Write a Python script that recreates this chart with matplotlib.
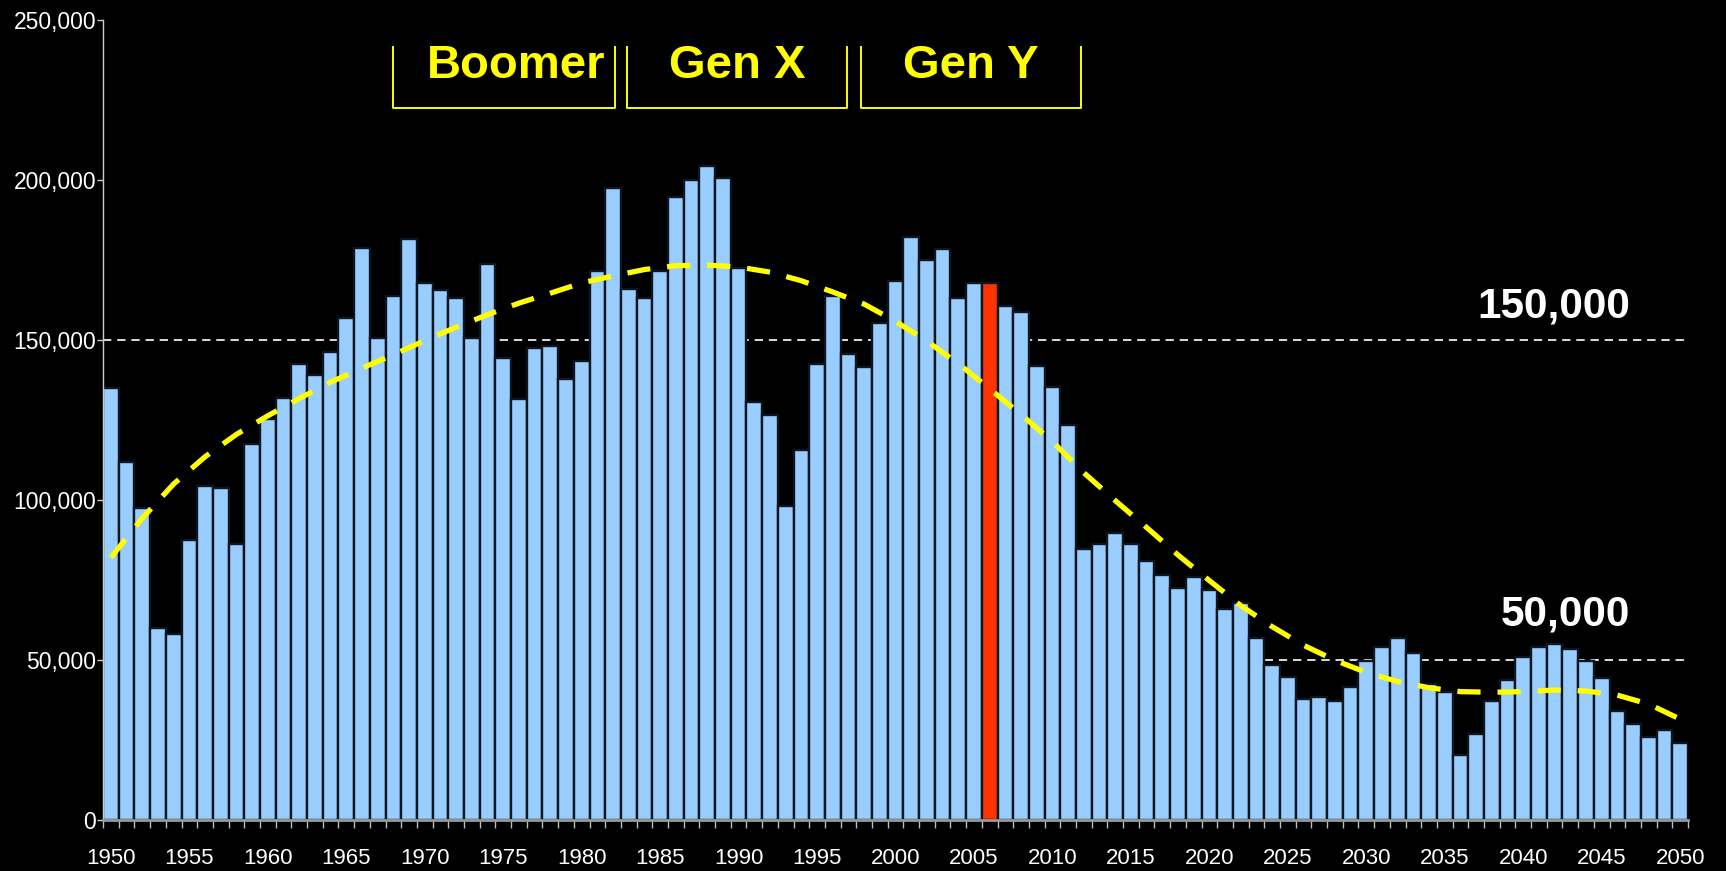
import numpy as np
import matplotlib.pyplot as plt
from matplotlib.ticker import FuncFormatter, MultipleLocator, FixedLocator

plt.rcParams['font.family'] = ['Liberation Sans', 'DejaVu Sans']

# --- data ---
years = np.arange(1950, 2051)
births = [
    134900, 112000, 97600, 59900, 58200, 87500, 104300, 103600, 86300, 117400,   # 1950s
    125200, 131900, 142600, 139000, 146300, 157000, 178600, 150500, 163700, 181600,  # 1960s
    167800, 165500, 163000, 150500, 173800, 144400, 131400, 147400, 148100, 137900,  # 1970s
    143400, 171400, 197600, 165900, 163000, 171400, 194700, 200000, 204300, 200700,  # 1980s
    172400, 130600, 126500, 98200, 115600, 142600, 163700, 145600, 141400, 155200,   # 1990s
    168300, 182100, 175000, 178500, 163000, 167800, 167800, 160600, 158800, 142000,  # 2000s
    135400, 123400, 84600, 86300, 89800, 86300, 80800, 76700, 72500, 76000,          # 2010s
    71900, 65800, 67700, 56800, 48500, 44800, 37700, 38300, 37100, 41400,            # 2020s
    49700, 53900, 56800, 52100, 42400, 40100, 20400, 26900, 37100, 43800,            # 2030s
    50900, 53900, 55100, 53300, 49700, 44300, 34100, 29900, 25800, 28100,            # 2040s
    24000,
]
highlight_year = 2006

trend_years = np.arange(1950, 2051, 2)
trend = [
    82000, 94300, 105000, 113500, 120500, 126300, 131700, 136800, 141200, 145400,
    149800, 154000, 157900, 161500, 164600, 167800, 170000, 172000, 173200, 173400,
    172800, 171200, 168500, 165000, 161200, 155800, 149600, 142600, 134700, 126700,
    118200, 108500, 99800, 91400, 82800, 74800, 67000, 60400, 54600, 49900,
    46100, 43250, 41300, 40100, 39900, 40100, 40600, 40300, 39000, 36200,
    31500,
]

ref_levels = [150000, 50000]
ref_labels = ['150,000', '50,000']

gen_names = ['Boomer', 'Gen X', 'Gen Y']
gen_start = [1968.0, 1982.9, 1997.8]
gen_end = [1982.1, 1996.9, 2011.8]

# --- figure ---
fig = plt.figure(figsize=(17.26, 8.71), dpi=100, facecolor='black')
ax = fig.add_axes([0.0597, 0.0586, 0.9183, 0.9185], facecolor='black')

# bars fill the whole slot; the dark edge makes the gap between them
colors = ['#FF3300' if y == highlight_year else '#99CCFF' for y in years]
ax.bar(years, births, width=1.0, color=colors, edgecolor='#0c1520',
       linewidth=1.7, zorder=2)

# reference lines (behind bars) and their labels
for lvl, lab, off in zip(ref_levels, ref_labels, [6900, 10900]):
    ax.axhline(lvl, color='white', lw=1.2, dashes=(5, 3.5), zorder=1)
    ax.text(2046.8, lvl + off, lab, color='white', fontsize=30.5,
            fontweight='bold', ha='right', va='baseline', zorder=4)

# smoothed trend
ax.plot(trend_years, trend, color='#FFFF00', lw=3.8, dashes=(4.4, 3.2),
        zorder=3)

# generation brackets ("Boomer" sits a bit right of centre in the original)
label_shift = {'Boomer': 0.75}
for name, s, e in zip(gen_names, gen_start, gen_end):
    ax.plot([s, s, e, e], [241700, 222600, 222600, 241700],
            color='#FFFF00', lw=1.4, zorder=3)
    ax.text((s + e) / 2 + label_shift.get(name, 0), 231900, name,
            color='#FFFF00', fontsize=34, fontweight='bold',
            ha='center', va='baseline', zorder=4)

ax.set_xlim(1949.5, 2050.5)
ax.set_ylim(0, 250000)

for side in ['top', 'right']:
    ax.spines[side].set_visible(False)
ax.spines['left'].set_color('#cccccc')
ax.spines['left'].set_linewidth(1.0)
ax.spines['bottom'].set_color('#999999')
ax.spines['bottom'].set_linewidth(2.0)
ax.spines['bottom'].set_zorder(5)

ax.yaxis.set_major_locator(MultipleLocator(50000))
ax.yaxis.set_major_formatter(FuncFormatter(lambda v, p: f'{int(v):,}'))
ax.tick_params(axis='y', colors='#cccccc', labelcolor='white',
               labelsize=16.5, length=4, width=1, pad=1)

ax.xaxis.set_major_locator(FixedLocator(np.arange(1950, 2051, 5)))
ax.xaxis.set_minor_locator(FixedLocator(np.arange(1949.5, 2051, 1)))
ax.tick_params(axis='x', which='major', length=0, pad=20,
               labelcolor='white', labelsize=16)
ax.tick_params(axis='x', which='minor', length=6, width=1,
               color='#bbbbbb', direction='out')

fig.savefig('out.png', dpi=100, facecolor='black')
